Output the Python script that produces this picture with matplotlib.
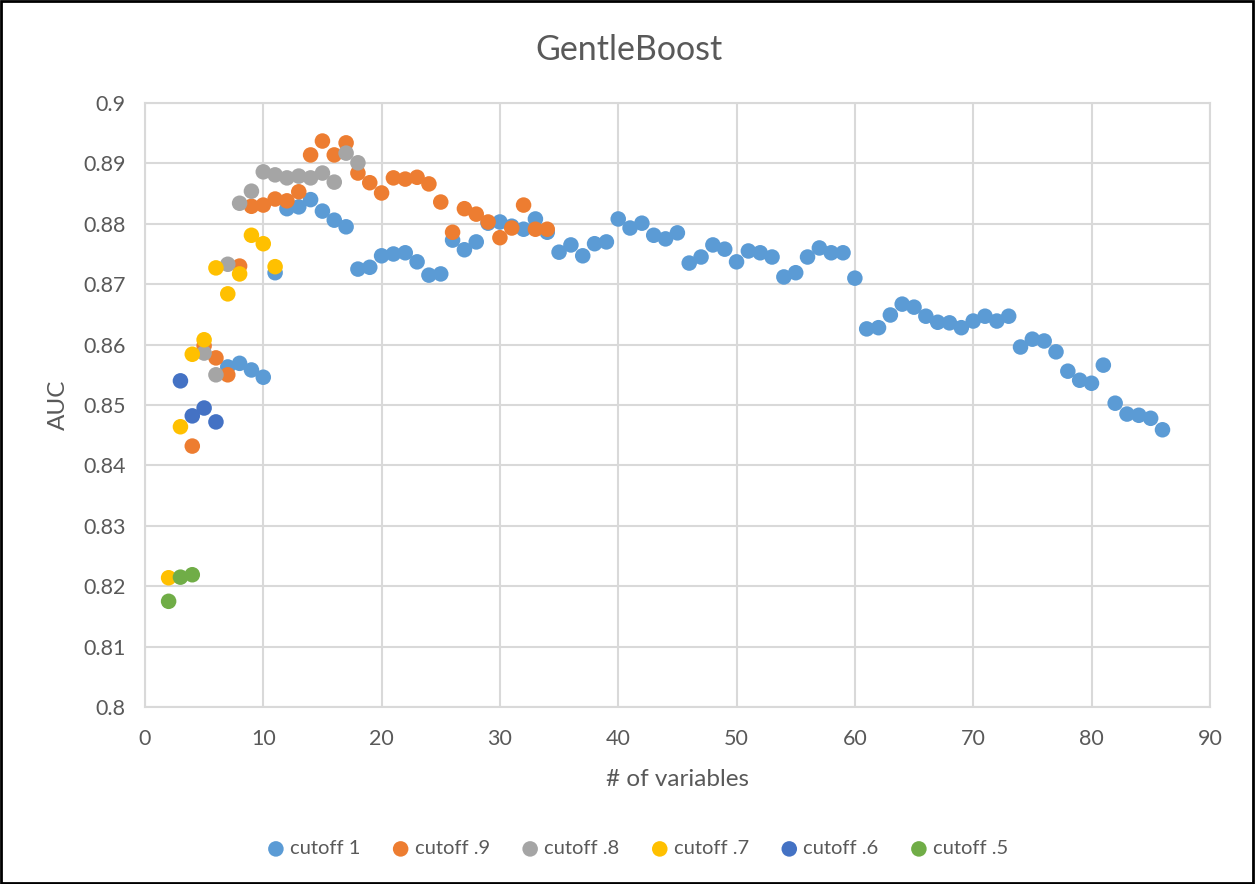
import matplotlib.pyplot as plt
from matplotlib.patches import Rectangle
from matplotlib.ticker import MultipleLocator, FuncFormatter

plt.rcParams['font.family'] = ['Lato', 'DejaVu Sans']

# cutoff 1
x_c1 = list(range(7, 87))
auc_c1 = [0.8563, 0.8569, 0.8558, 0.8546, 0.8719, 0.8825, 0.8828, 0.8840, 0.8821, 0.8806,
          0.8795, 0.8725, 0.8728, 0.8747, 0.8750, 0.8752, 0.8737, 0.8715, 0.8717, 0.8773,
          0.8757, 0.8770, 0.8801, 0.8803, 0.8796, 0.8791, 0.8808, 0.8786, 0.8753, 0.8765,
          0.8747, 0.8767, 0.8770, 0.8808, 0.8793, 0.8801, 0.8781, 0.8775, 0.8785, 0.8735,
          0.8745, 0.8765, 0.8758, 0.8737, 0.8755, 0.8752, 0.8745, 0.8712, 0.8719, 0.8745,
          0.8760, 0.8752, 0.8752, 0.8710, 0.8626, 0.8628, 0.8649, 0.8667, 0.8662, 0.8647,
          0.8637, 0.8636, 0.8628, 0.8639, 0.8647, 0.8639, 0.8647, 0.8596, 0.8609, 0.8606,
          0.8588, 0.8556, 0.8541, 0.8536, 0.8566, 0.8503, 0.8485, 0.8483, 0.8478, 0.8459]

# cutoff .9
x_c9 = list(range(4, 35))
auc_c9 = [0.8432, 0.8598, 0.8578, 0.8550, 0.8730, 0.8829, 0.8831, 0.8841, 0.8838, 0.8853,
          0.8914, 0.8937, 0.8914, 0.8934, 0.8884, 0.8868, 0.8851, 0.8876, 0.8874, 0.8877,
          0.8866, 0.8836, 0.8786, 0.8825, 0.8816, 0.8803, 0.8777, 0.8793, 0.8831, 0.8791,
          0.8791]

# cutoff .8
x_c8 = list(range(5, 19))
auc_c8 = [0.8586, 0.8550, 0.8733, 0.8834, 0.8854, 0.8886, 0.8881, 0.8876, 0.8879, 0.8876,
          0.8884, 0.8869, 0.8917, 0.8901]

# cutoff .7
x_c7 = list(range(2, 12))
auc_c7 = [0.8214, 0.8464, 0.8584, 0.8608, 0.8727, 0.8684, 0.8717, 0.8781, 0.8767, 0.8729]

# cutoff .6
x_c6 = [3, 4, 5, 6]
auc_c6 = [0.8540, 0.8482, 0.8495, 0.8472]

# cutoff .5
x_c5 = [2, 3, 4]
auc_c5 = [0.8175, 0.8215, 0.8219]

series = [
    ('cutoff 1', x_c1, auc_c1, '#5B9BD5'),
    ('cutoff .9', x_c9, auc_c9, '#ED7D31'),
    ('cutoff .8', x_c8, auc_c8, '#A5A5A5'),
    ('cutoff .7', x_c7, auc_c7, '#FFC000'),
    ('cutoff .6', x_c6, auc_c6, '#4472C4'),
    ('cutoff .5', x_c5, auc_c5, '#70AD47'),
]

text_color = '#595959'
grid_color = '#D9D9D9'

fig = plt.figure(figsize=(12.55, 8.84), dpi=100)
ax = fig.add_axes([0.1155, 0.2002, 0.8485, 0.6833])

for i, (name, xs, ys, color) in enumerate(series):
    ax.scatter(xs, ys, s=125, color=color, edgecolors='none', label=name, zorder=3 + i)

ax.set_xlim(0, 90)
ax.set_ylim(0.8, 0.9)
ax.xaxis.set_major_locator(MultipleLocator(10))
ax.yaxis.set_major_locator(MultipleLocator(0.01))
ax.yaxis.set_major_formatter(FuncFormatter(lambda v, p: f'{round(v, 2):g}'))

ax.grid(True, color=grid_color, linewidth=1.5)
ax.set_axisbelow(True)
for sp in ax.spines.values():
    sp.set_color(grid_color)
    sp.set_linewidth(1.5)
ax.tick_params(length=0, labelsize=15.5, colors=text_color)
ax.tick_params(axis='y', pad=14)
ax.tick_params(axis='x', pad=16)

ax.set_xlabel('# of variables', fontsize=17.5, color=text_color, labelpad=14)
ax.set_ylabel('AUC', fontsize=17.5, color=text_color, labelpad=10)
fig.text(0.501, 0.943, 'GentleBoost', ha='center', va='center', fontsize=24.5, color=text_color)

leg = fig.legend(loc='center', bbox_to_anchor=(0.508, 0.04), ncol=6, frameon=False,
                 fontsize=14.5, handlelength=0.9, handletextpad=0.25, columnspacing=1.55,
                 markerscale=1.0)
for t in leg.get_texts():
    t.set_color(text_color)

# outer frame
fig.patches.append(Rectangle((0.0005, 0.0008), 0.998, 0.998, transform=fig.transFigure,
                             fill=False, edgecolor='black', linewidth=2))

fig.savefig('out.png', dpi=100)
